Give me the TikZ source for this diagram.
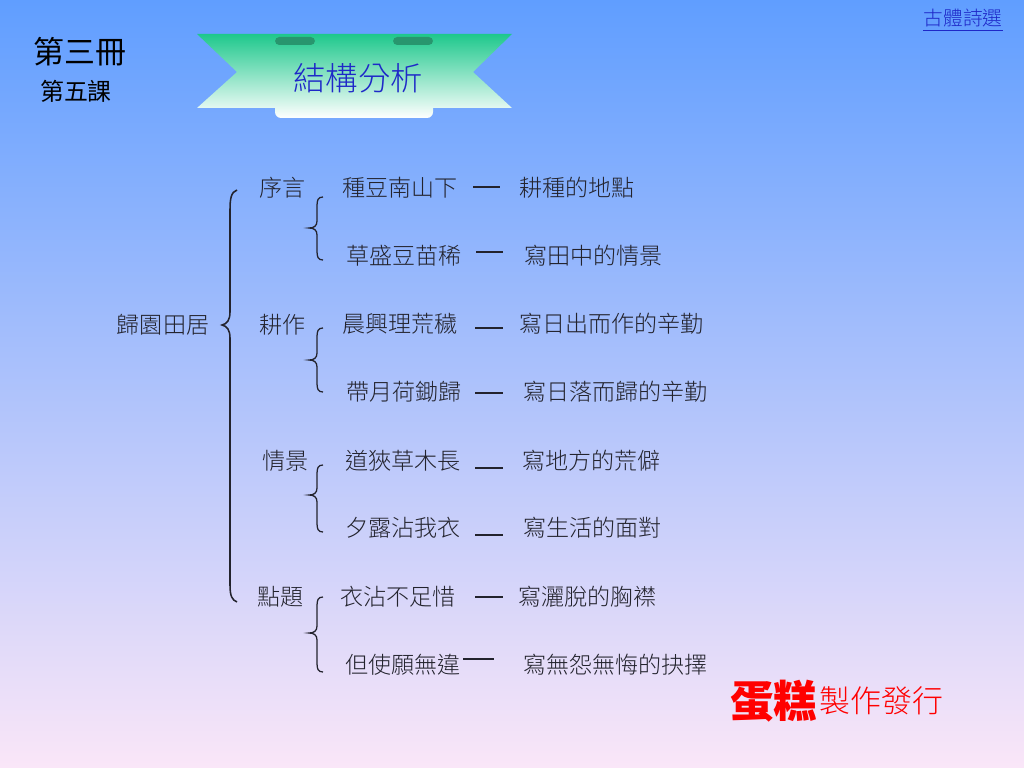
\documentclass[tikz,border=0pt]{standalone}
\usepackage{fontspec}
\usepackage{tikz}
\usetikzlibrary{
    arrows.meta,
    positioning,
    calc
}
\newfontfamily\cjk{Noto Sans CJK TC}
\newfontfamily\cjklight{Noto Sans CJK TC Light}
\definecolor{bgtop}{RGB}{96,158,255}
\definecolor{bgmid}{RGB}{165,200,245}
\definecolor{bgbot}{RGB}{250,230,248}
\definecolor{inkgray}{RGB}{35,35,45}
\definecolor{titleblue}{RGB}{30,40,200}
\definecolor{bangreen}{RGB}{30,200,140}
\definecolor{rollgreen}{RGB}{40,150,110}
\tikzset{
    body/.style={anchor=west, inner sep=0pt, text=inkgray, font=\cjklight\fontsize{16.4}{18}\selectfont},
    dashline/.style={inkgray, line width=1.1pt},
    bracket/.style={inkgray, line width=0.9pt},
}

\begin{document}
\begin{tikzpicture}[x=0.025cm, y=-0.025cm]
    \useasboundingbox (0,0) rectangle (1024,768);
    \shade[top color=bgtop, middle color=bgmid, bottom color=bgbot] (0,0) rectangle (1024,768);

    %% Header
    \node[inner sep=0pt, text=black, font=\cjk\fontsize{22}{24}\selectfont] (book) at (80,52) {第三冊};
    \node[inner sep=0pt, text=black, font=\cjk\fontsize{17}{19}\selectfont] (lesson) at (76,91) {第五課};
    \node[inner sep=0pt, text=titleblue, font=\cjklight\fontsize{14}{16}\selectfont] (link) at (963,18) {古體詩選};
    \draw[titleblue, line width=0.7pt] ([yshift=-2]link.south west) -- ([yshift=-2]link.south east);

    %% Banner
    \shade[top color=bangreen, bottom color=white]
        (197,34) -- (512,34) -- (473,72) -- (512,108) -- (433,108) -- (433,112)
        arc (0:90:6) -- (281,118) arc (90:180:6) -- (275,108) -- (197,108) -- (237,72) -- cycle;
    \fill[rollgreen, rounded corners=3] (275,37) rectangle (315,45);
    \fill[rollgreen, rounded corners=3] (393,37) rectangle (433,45);
    \node[inner sep=0pt, text=titleblue, font=\cjklight\fontsize{23}{25}\selectfont] (title) at (358,78) {結構分析};

    %% Tree
    \node[inner sep=0pt, text=inkgray, font=\cjklight\fontsize{16.4}{18}\selectfont] (root) at (163,325) {歸園田居};
    \draw[bracket, line width=1.1pt] (237,190) .. controls (231,192) and (230,199) .. (230,210) -- (230,312)
        .. controls (230,320) and (227,324) .. (222,325) .. controls (227,326) and (230,330) .. (230,338)
        -- (230,585) .. controls (230,596) and (232,600) .. (237,602);

    \node[body] (preface) at (259,188) {序言};
    \node[body] (farming) at (259,325) {耕作};
    \node[body] (scene) at (262,461) {情景};
    \node[body] (theme) at (257,597) {點題};

    \foreach \t/\m/\b in {197/228/260, 328/360/392, 465/495/532, 597/633/672}
        \draw[bracket] (323,\t) .. controls (318,\t) and (317,\t+3) .. (317,\t+9) -- (317,\m-7)
            .. controls (317,\m-2) and (314,\m) .. (309,\m) .. controls (314,\m) and (317,\m+2) .. (317,\m+7)
            -- (317,\b-9) .. controls (317,\b-3) and (318,\b) .. (323,\b);

    % verses
    \node[body] (verseA) at (342,188) {種豆南山下};
    \node[body] (verseB) at (346,256) {草盛豆苗稀};
    \node[body] (verseC) at (342,324) {晨興理荒穢};
    \node[body] (verseD) at (346,392) {帶月荷鋤歸};
    \node[body] (verseE) at (345,461) {道狹草木長};
    \node[body] (verseF) at (345,528) {夕露沾我衣};
    \node[body] (verseG) at (340,597) {衣沾不足惜};
    \node[body] (verseH) at (345,665) {但使願無違};

    % notes
    \node[body] (noteA) at (519,188) {耕種的地點};
    \node[body] (noteB) at (524,256) {寫田中的情景};
    \node[body] (noteC) at (519,324) {寫日出而作的辛勤};
    \node[body] (noteD) at (523,392) {寫日落而歸的辛勤};
    \node[body] (noteE) at (522,461) {寫地方的荒僻};
    \node[body] (noteF) at (523,528) {寫生活的面對};
    \node[body] (noteG) at (518,597) {寫灑脫的胸襟};
    \node[body] (noteH) at (523,665) {寫無怨無悔的抉擇};

    % dashes
    \foreach \xa/\xb/\y in {473/500/187, 476/503/252, 475/503/328, 475/503/393, 475/503/468, 475/503/535, 475/503/597, 463/494/659}
        \draw[dashline] (\xa,\y) -- (\xb,\y);

    %% Footer
    \node[anchor=west, inner sep=0pt, text=red, font=\cjk\bfseries\fontsize{31}{33}\selectfont] (cake) at (730,701) {蛋糕};
    \node[anchor=west, inner sep=0pt, text=red, font=\cjklight\fontsize{22}{24}\selectfont, right=1pt of cake] (maker) {製作發行};
\end{tikzpicture}
\end{document}
